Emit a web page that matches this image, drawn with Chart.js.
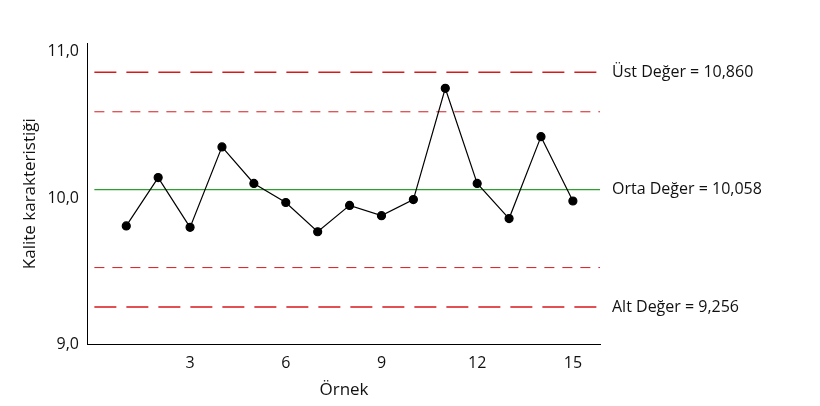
<!DOCTYPE html>
<html>
<head>
<meta charset="utf-8">
<script src="https://cdn.jsdelivr.net/npm/chart.js@4"></script>
<style>
  body { margin: 0; background: #fff; }
  #wrap { width: 820px; height: 406px; }
</style>
</head>
<body>
<div id="wrap"><canvas id="chart"></canvas></div>
<script>
// sample numbers and measured values
const samples = [1, 2, 3, 4, 5, 6, 7, 8, 9, 10, 11, 12, 13, 14, 15];
const values = [9.81, 10.14, 9.80, 10.35, 10.10, 9.97, 9.77, 9.95, 9.88, 9.99, 10.75, 10.10, 9.86, 10.42, 9.98];

// control limits
const upperLimit = 10.86;
const centerLine = 10.058;
const lowerLimit = 9.256;
const upperWarn = 10.59;
const lowerWarn = 9.525;
const limitLabels = ['Üst Değer = 10,860', 'Orta Değer = 10,058', 'Alt Değer = 9,256'];

const xTicks = [3, 6, 9, 12, 15];
const yTicks = [9, 10, 11];

function hline(y, color, width, dash) {
    return {
        data: [{ x: 0, y: y }, { x: 15.85, y: y }],
        borderColor: color,
        borderWidth: width,
        borderDash: dash,
        pointRadius: 0,
        order: 2
    };
}

// draw the limit labels to the right of the plot
const labelPlugin = {
    id: 'limitLabels',
    afterDraw(chart) {
        const ctx = chart.ctx;
        const y = chart.scales.y;
        const x = chart.chartArea.right + 12;
        ctx.save();
        ctx.font = '16px "Open Sans"';
        ctx.fillStyle = '#111';
        ctx.textBaseline = 'middle';
        [upperLimit, centerLine, lowerLimit].forEach((v, i) => {
            ctx.fillText(limitLabels[i], x, y.getPixelForValue(v));
        });
        ctx.restore();
    }
};

const axisFont = { family: 'Open Sans', size: 16 };

new Chart(document.getElementById('chart'), {
    type: 'line',
    data: {
        datasets: [
            {
                data: samples.map((s, i) => ({ x: s, y: values[i] })),
                borderColor: '#000',
                borderWidth: 1.2,
                pointBackgroundColor: '#000',
                pointBorderColor: '#000',
                pointRadius: 4,
                order: 1
            },
            hline(upperLimit, '#d7191c', 1.5, [22, 10]),
            hline(upperWarn, '#d7191c', 1, [10, 8]),
            hline(centerLine, '#2ca02c', 1.2, []),
            hline(lowerWarn, '#d7191c', 1, [10, 8]),
            hline(lowerLimit, '#d7191c', 1.5, [22, 10])
        ]
    },
    options: {
        responsive: true,
        maintainAspectRatio: false,
        animation: false,
        layout: { padding: { top: 43, right: 220, left: 16, bottom: 2 } },
        plugins: { legend: { display: false }, tooltip: { enabled: false } },
        scales: {
            x: {
                type: 'linear',
                min: -0.2,
                max: 15.85,
                afterBuildTicks: axis => { axis.ticks = xTicks.map(v => ({ value: v })); },
                grid: { display: false, drawTicks: true, tickLength: 6 },
                border: { color: '#000', width: 1 },
                ticks: { color: '#111', font: axisFont },
                title: { display: true, text: 'Örnek', color: '#111', font: { family: 'Open Sans', size: 17 } }
            },
            y: {
                min: 9,
                max: 11.06,
                afterBuildTicks: axis => { axis.ticks = yTicks.map(v => ({ value: v })); },
                grid: { display: false, drawTicks: true, tickLength: 6 },
                border: { color: '#000', width: 1 },
                ticks: {
                    color: '#111',
                    font: axisFont,
                    callback: v => v.toFixed(1).replace('.', ',')
                },
                title: { display: true, text: 'Kalite karakteristiği', color: '#111', font: { family: 'Open Sans', size: 17 } }
            }
        }
    },
    plugins: [labelPlugin]
});
</script>
</body>
</html>
